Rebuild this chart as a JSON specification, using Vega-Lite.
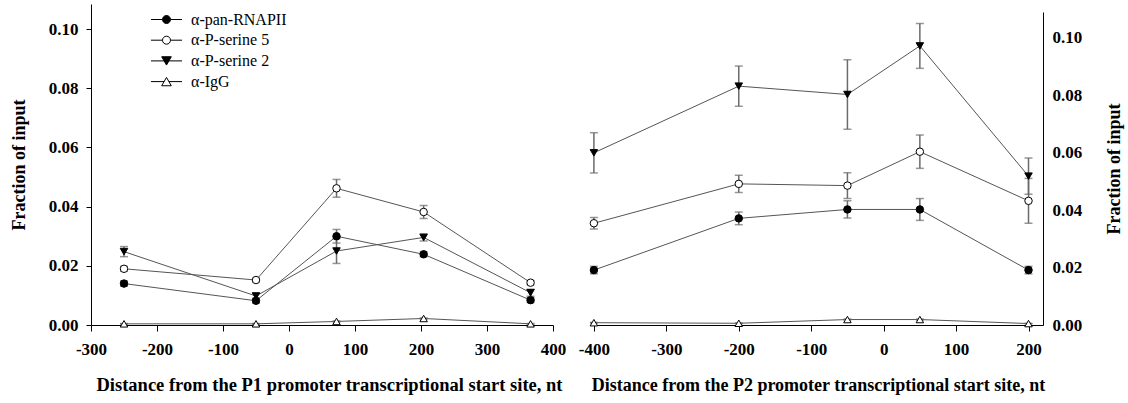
{
  "$schema": "https://vega.github.io/schema/vega-lite/v6.json",
  "background": "white",
  "padding": {"left": 10, "top": 4, "right": 4, "bottom": 2},
  "spacing": 38,
  "bounds": "flush",
  "config": {
    "view": {"stroke": null},
    "font": "Liberation Serif",
    "axis": {
      "labelFont": "Liberation Serif", "labelFontSize": 17, "labelFontWeight": "bold", "labelColor": "black",
      "titleFont": "Liberation Serif", "titleFontWeight": "bold", "titleColor": "black",
      "domainColor": "black", "tickColor": "black", "grid": false, "tickSize": 6,
      "domainWidth": 1, "tickWidth": 1, "labelFlush": false, "labelOverlap": false
    },
    "legend": {
      "labelFont": "Liberation Serif", "labelFontSize": 16, "labelColor": "black"
    }
  },
  "datasets": {
    "p1": [
      {"series": "α-pan-RNAPII", "x": -250, "y": 0.014, "err": 0.0009},
      {"series": "α-pan-RNAPII", "x": -50, "y": 0.0082, "err": 0.0008},
      {"series": "α-pan-RNAPII", "x": 72, "y": 0.030, "err": 0.0023},
      {"series": "α-pan-RNAPII", "x": 204, "y": 0.0239, "err": 0.0008},
      {"series": "α-pan-RNAPII", "x": 366, "y": 0.0084, "err": 0.0008},
      {"series": "α-P-serine 5", "x": -250, "y": 0.019, "err": 0.0008},
      {"series": "α-P-serine 5", "x": -50, "y": 0.0152, "err": 0.0006},
      {"series": "α-P-serine 5", "x": 72, "y": 0.0462, "err": 0.003},
      {"series": "α-P-serine 5", "x": 204, "y": 0.0382, "err": 0.0022},
      {"series": "α-P-serine 5", "x": 366, "y": 0.0143, "err": 0.0007},
      {"series": "α-P-serine 2", "x": -250, "y": 0.0248, "err": 0.0017},
      {"series": "α-P-serine 2", "x": -50, "y": 0.0098, "err": 0.001},
      {"series": "α-P-serine 2", "x": 72, "y": 0.025, "err": 0.0042},
      {"series": "α-P-serine 2", "x": 204, "y": 0.0296, "err": 0.0012},
      {"series": "α-P-serine 2", "x": 366, "y": 0.0109, "err": 0.0012},
      {"series": "α-IgG", "x": -250, "y": 0.0004, "err": 0.0001},
      {"series": "α-IgG", "x": -50, "y": 0.0004, "err": 0.0001},
      {"series": "α-IgG", "x": 72, "y": 0.0012, "err": 0.0002},
      {"series": "α-IgG", "x": 204, "y": 0.0022, "err": 0.0002},
      {"series": "α-IgG", "x": 366, "y": 0.0004, "err": 0.0001}
    ],
    "p2": [
      {"series": "α-pan-RNAPII", "x": -400, "y": 0.0191, "err": 0.0013},
      {"series": "α-pan-RNAPII", "x": -200, "y": 0.0371, "err": 0.0022},
      {"series": "α-pan-RNAPII", "x": -50, "y": 0.0402, "err": 0.003},
      {"series": "α-pan-RNAPII", "x": 50, "y": 0.0402, "err": 0.0038},
      {"series": "α-pan-RNAPII", "x": 200, "y": 0.0191, "err": 0.0013},
      {"series": "α-P-serine 5", "x": -400, "y": 0.0354, "err": 0.002},
      {"series": "α-P-serine 5", "x": -200, "y": 0.0491, "err": 0.003},
      {"series": "α-P-serine 5", "x": -50, "y": 0.0485, "err": 0.0045},
      {"series": "α-P-serine 5", "x": 50, "y": 0.0603, "err": 0.0058},
      {"series": "α-P-serine 5", "x": 200, "y": 0.0432, "err": 0.0078},
      {"series": "α-P-serine 2", "x": -400, "y": 0.0599, "err": 0.007},
      {"series": "α-P-serine 2", "x": -200, "y": 0.0831, "err": 0.007},
      {"series": "α-P-serine 2", "x": -50, "y": 0.0802, "err": 0.0121},
      {"series": "α-P-serine 2", "x": 50, "y": 0.0971, "err": 0.0078},
      {"series": "α-P-serine 2", "x": 200, "y": 0.0518, "err": 0.0063},
      {"series": "α-IgG", "x": -400, "y": 0.0008, "err": 0.0001},
      {"series": "α-IgG", "x": -200, "y": 0.0006, "err": 0.0001},
      {"series": "α-IgG", "x": -50, "y": 0.0019, "err": 0.0002},
      {"series": "α-IgG", "x": 50, "y": 0.0019, "err": 0.0002},
      {"series": "α-IgG", "x": 200, "y": 0.0005, "err": 0.0001}
    ]
  },
  "hconcat": [
    {
      "width": 462,
      "height": 321,
      "data": {"name": "p1"},
      "encoding": {
        "x": {"field": "x", "type": "quantitative", "scale": {"domain": [-300, 400], "nice": false},
          "axis": {"values": [-300, -200, -100, 0, 100, 200, 300, 400], "labelExpr": "replace(datum.label, '−', '-')", "title": "Distance from the P1 promoter transcriptional start site, nt", "titleFontSize": 18.5, "titlePadding": 18, "titleX": 238, "labelPadding": 10}},
        "y": {"field": "y", "type": "quantitative", "scale": {"domain": [0, 0.1085], "nice": false, "zero": true},
          "axis": {"values": [0, 0.02, 0.04, 0.06, 0.08, 0.1], "format": ".2f", "title": "Fraction of input", "titleFontSize": 18, "titlePadding": 20, "tickSize": 5, "labelPadding": 8}}
      },
      "layer": [
        {"mark": {"type": "line", "color": "#555555", "strokeWidth": 1}, "encoding": {"detail": {"field": "series"}}},
        {"mark": {"type": "errorbar", "ticks": {"size": 8}, "color": "#6b6b6b", "thickness": 1.5},
          "encoding": {"yError": {"field": "err"}, "detail": {"field": "series"}}},
        {"mark": {"type": "point", "filled": true, "size": 56, "stroke": "black", "strokeWidth": 1, "opacity": 1},
          "encoding": {
            "shape": {"field": "series", "scale": {"domain": ["α-pan-RNAPII", "α-P-serine 5", "α-P-serine 2", "α-IgG"], "range": ["circle", "circle", "triangle-down", "triangle-up"]}, "legend": null},
            "fill": {"field": "series", "scale": {"domain": ["α-pan-RNAPII", "α-P-serine 5", "α-P-serine 2", "α-IgG"], "range": ["black", "white", "black", "white"]}, "legend": null}
          }},
        {"transform": [{"filter": "false"}],
          "mark": {"type": "point", "filled": true, "size": 256, "stroke": "black", "strokeWidth": 1, "opacity": 1},
          "encoding": {
            "shape": {"field": "series", "scale": {"domain": ["α-pan-RNAPII", "α-P-serine 5", "α-P-serine 2", "α-IgG"], "range": [
              "M-1.94,0L-0.5,0M0.5,0L1.94,0M0.5,0A0.5,0.5,0,1,1,-0.5,0A0.5,0.5,0,1,1,0.5,0Z",
              "M-1.94,0L-0.5,0M0.5,0L1.94,0M0.5,0A0.5,0.5,0,1,1,-0.5,0A0.5,0.5,0,1,1,0.5,0Z",
              "M-1.94,0L-0.3,0M0.3,0L1.94,0M-0.6,-0.52L0.6,-0.52L0,0.52Z",
              "M-1.94,0L-0.3,0M0.3,0L1.94,0M0,-0.52L0.6,0.52L-0.6,0.52Z"]},
              "legend": {"title": null, "orient": "none", "legendX": 67, "legendY": 7, "symbolSize": 256, "symbolStrokeWidth": 1, "labelOffset": 16, "rowPadding": 3.7}},
            "fill": {"field": "series", "scale": {"domain": ["α-pan-RNAPII", "α-P-serine 5", "α-P-serine 2", "α-IgG"], "range": ["black", "white", "black", "white"]},
              "legend": {"title": null, "orient": "none", "legendX": 67, "legendY": 7, "symbolSize": 256, "symbolStrokeWidth": 1, "labelOffset": 16, "rowPadding": 3.7}}
          }}
      ],
      "resolve": {"scale": {"shape": "independent", "fill": "independent"}}
    },
    {
      "width": 452,
      "height": 321,
      "data": {"name": "p2"},
      "encoding": {
        "x": {"field": "x", "type": "quantitative", "scale": {"domain": [-404, 220], "nice": false, "zero": false},
          "axis": {"values": [-400, -300, -200, -100, 0, 100, 200], "labelExpr": "replace(datum.label, '−', '-')", "title": "Distance from the P2 promoter transcriptional start site, nt", "titleFontSize": 18, "titlePadding": 19, "titleX": 227, "labelPadding": 10}},
        "y": {"field": "y", "type": "quantitative", "scale": {"domain": [0, 0.1089], "range": [321, 8], "nice": false, "zero": true},
          "axis": {"orient": "right", "values": [0, 0.02, 0.04, 0.06, 0.08, 0.1], "format": ".2f", "title": "Fraction of input", "titleFontSize": 18, "titlePadding": 42, "titleAngle": 270, "tickSize": 0, "labelPadding": 9}}
      },
      "layer": [
        {"mark": {"type": "line", "color": "#555555", "strokeWidth": 1}, "encoding": {"detail": {"field": "series"}}},
        {"mark": {"type": "errorbar", "ticks": {"size": 8}, "color": "#6b6b6b", "thickness": 1.5},
          "encoding": {"yError": {"field": "err"}, "detail": {"field": "series"}}},
        {"mark": {"type": "point", "filled": true, "size": 56, "stroke": "black", "strokeWidth": 1, "opacity": 1},
          "encoding": {
            "shape": {"field": "series", "scale": {"domain": ["α-pan-RNAPII", "α-P-serine 5", "α-P-serine 2", "α-IgG"], "range": ["circle", "circle", "triangle-down", "triangle-up"]}, "legend": null},
            "fill": {"field": "series", "scale": {"domain": ["α-pan-RNAPII", "α-P-serine 5", "α-P-serine 2", "α-IgG"], "range": ["black", "white", "black", "white"]}, "legend": null}
          }}
      ]
    }
  ]
}
